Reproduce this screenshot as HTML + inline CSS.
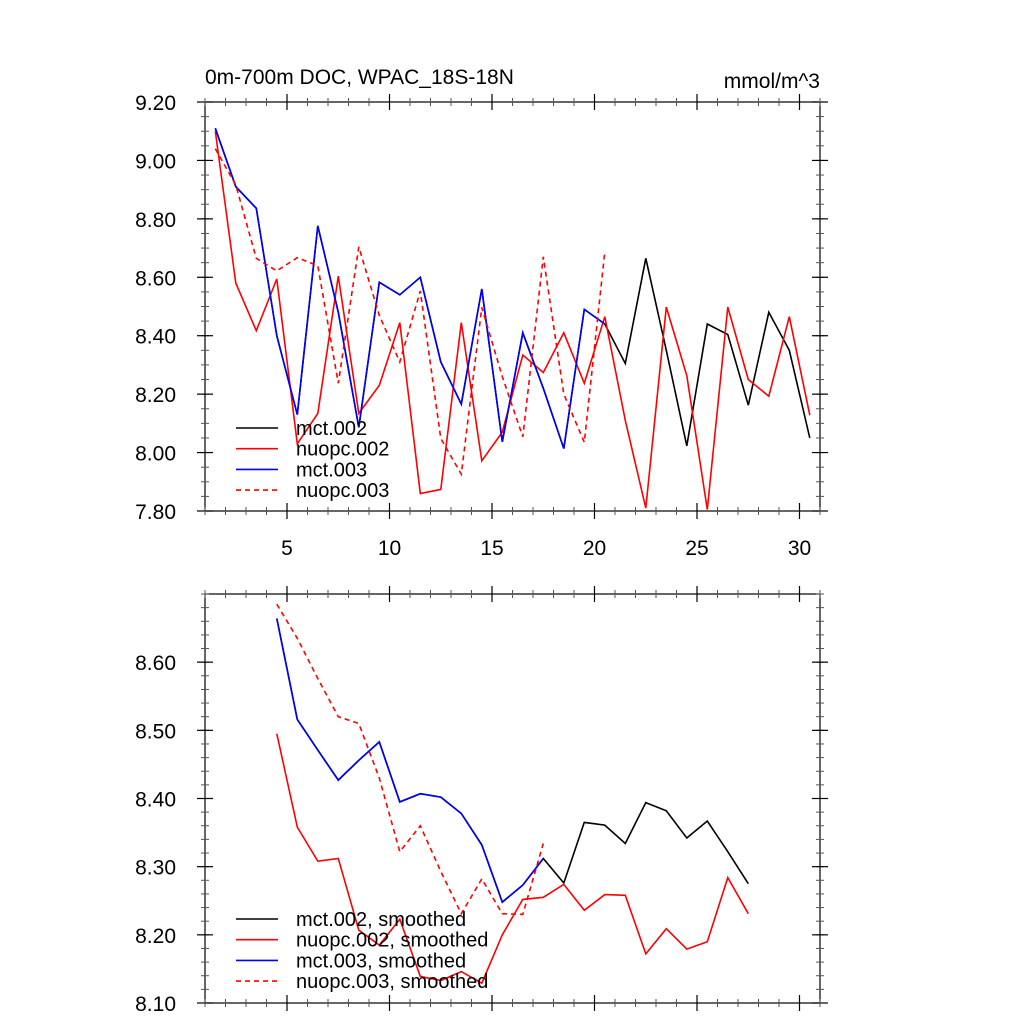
<!DOCTYPE html>
<html><head><meta charset="utf-8"><style>
html,body{margin:0;padding:0;background:#fff;}
svg{display:block;font-family:"Liberation Sans",sans-serif;}
</style></head><body>
<svg id="chart" width="1024" height="1024" viewBox="0 0 1024 1024" xmlns="http://www.w3.org/2000/svg">
<text x="205" y="84" font-size="21">0m-700m DOC, WPAC_18S-18N</text>
<text x="820" y="88" font-size="21" text-anchor="end">mmol/m^3</text>
<g id="top"></g><g id="bot"></g>
</svg>
<script>
const years = [1.5,2.5,3.5,4.5,5.5,6.5,7.5,8.5,9.5,10.5,11.5,12.5,13.5,14.5,15.5,16.5,17.5,18.5,19.5,20.5,21.5,22.5,23.5,24.5,25.5,26.5,27.5,28.5,29.5,30.5];
const mct002 = [9.11,8.91,8.836,8.40,8.13,8.776,8.48,8.086,8.583,8.54,8.60,8.31,8.166,8.56,8.037,8.41,8.22,8.014,8.49,8.44,8.305,8.665,8.35,8.023,8.44,8.404,8.162,8.48,8.35,8.05];
const nuopc002 = [9.10,8.58,8.417,8.594,8.03,8.134,8.604,8.134,8.23,8.445,7.86,7.874,8.445,7.972,8.07,8.334,8.274,8.41,8.237,8.465,8.11,7.81,8.498,8.263,7.805,8.498,8.25,8.193,8.465,8.128];
const mct003 = [9.11,8.91,8.836,8.40,8.13,8.776,8.48,8.086,8.583,8.54,8.60,8.31,8.166,8.56,8.037,8.41,8.22,8.014,8.49,8.44];
const nuopc003 = [9.04,8.916,8.665,8.622,8.667,8.64,8.237,8.704,8.47,8.31,8.553,8.048,7.926,8.497,8.26,8.054,8.67,8.2,8.035,8.687];
const sYears = [4.5,5.5,6.5,7.5,8.5,9.5,10.5,11.5,12.5,13.5,14.5,15.5,16.5,17.5,18.5,19.5,20.5,21.5,22.5,23.5,24.5,25.5,26.5,27.5];
const mct002s = [8.664,8.516,8.471,8.427,8.456,8.483,8.395,8.407,8.402,8.378,8.332,8.248,8.273,8.312,8.276,8.365,8.361,8.334,8.394,8.382,8.342,8.367,8.322,8.275];
const nuopc002s = [8.495,8.358,8.308,8.312,8.207,8.185,8.223,8.139,8.133,8.146,8.129,8.2,8.252,8.255,8.274,8.236,8.259,8.258,8.172,8.209,8.179,8.19,8.284,8.231];
const mct003s = [8.664,8.516,8.471,8.427,8.456,8.483,8.395,8.407,8.402,8.378,8.332,8.248,8.273,8.312];
const nuopc003s = [8.685,8.635,8.576,8.52,8.51,8.43,8.322,8.36,8.293,8.231,8.282,8.231,8.23,8.334];
const topYTicks = ["7.80","8.00","8.20","8.40","8.60","8.80","9.00","9.20"];
const botYTicks = ["8.10","8.20","8.30","8.40","8.50","8.60"];
const xTickLabels = ["5","10","15","20","25","30"];

const NS="http://www.w3.org/2000/svg";
function mk(p,tag,attrs){const e=document.createElementNS(NS,tag);for(const k in attrs)e.setAttribute(k,attrs[k]);p.appendChild(e);return e;}
const L=205,R=820,X0=1,X1=31;
const xs=v=>L+(v-X0)/(X1-X0)*(R-L);

function panel(g,T,B,y0,y1,yMinor,yLabels,showX,series,legend,legY){
  const ys=v=>B-(v-y0)/(y1-y0)*(B-T);
  const fr=mk(g,'rect',{x:L,y:T,width:R-L,height:B-T,fill:'none',stroke:'#000','stroke-width':1.2});
  
  
  for(let v=y0;v<=y1+1e-6;v+=yMinor){
    const y=ys(v);
    mk(g,'line',{x1:L-4,x2:L+4,y1:y,y2:y,stroke:'#555','stroke-width':1});
    mk(g,'line',{x1:R-4,x2:R+4,y1:y,y2:y,stroke:'#555','stroke-width':1});
  }
  yLabels.forEach(s=>{const v=parseFloat(s),y=ys(v);
    mk(g,'line',{x1:L-8,x2:L+8,y1:y,y2:y,stroke:'#000','stroke-width':1.2});
    mk(g,'line',{x1:R-8,x2:R+8,y1:y,y2:y,stroke:'#000','stroke-width':1.2});
    const t=mk(g,'text',{x:176,y:y+8,'font-size':21,'text-anchor':'end'});t.textContent=s;
    
    
  });
  for(let v=1;v<=31;v++){
    const x=xs(v);const maj=v%5===0;const l=maj?8:4;
    mk(g,'line',{x1:x,x2:x,y1:B-l,y2:B+l,stroke:maj?'#000':'#555','stroke-width':maj?1.2:1});
    mk(g,'line',{x1:x,x2:x,y1:T-l,y2:T+l,stroke:maj?'#000':'#555','stroke-width':maj?1.2:1});
  }
  if(showX) xTickLabels.forEach(s=>{const t=mk(g,'text',{x:xs(+s),y:B+44,'font-size':21,'text-anchor':'middle'});t.textContent=s;
    
    });
  series.forEach(([xv,yv,col,dash,name])=>{
    const pts=yv.map((v,i)=>xs(xv[i]).toFixed(1)+','+ys(v).toFixed(1)).join(' ');
    const p=mk(g,'polyline',{points:pts,fill:'none',stroke:col,'stroke-width':1.6,'stroke-dasharray':dash?'5,4':'none'});
    
    
  });
  legend.forEach(([txt,col,dash],i)=>{
    const y=legY+i*20.7;
    const gl=mk(g,'g',{});
    
    
    mk(gl,'line',{x1:236,x2:278,y1:y,y2:y,stroke:col,'stroke-width':1.6,'stroke-dasharray':dash?'5,4':'none'});
    const t=mk(gl,'text',{x:296,y:y+7,'font-size':20});t.textContent=txt;
  });
}
panel(document.getElementById('top'),102,511,7.8,9.2,0.05,topYTicks,true,[
  [years,mct002,'#000',false,'series-mct-002'],
  [years,nuopc002,'#f00',false,'series-nuopc-002'],
  [years,mct003,'#00f',false,'series-mct-003'],
  [years,nuopc003,'#f00',true,'series-nuopc-003']],
  [['mct.002','#000',false],['nuopc.002','#f00',false],['mct.003','#00f',false],['nuopc.003','#f00',true]],428);
panel(document.getElementById('bot'),594,1003,8.1,8.7,0.02,botYTicks,false,[
  [sYears,mct002s,'#000',false,'series-mct-002-smoothed'],
  [sYears,nuopc002s,'#f00',false,'series-nuopc-002-smoothed'],
  [sYears.slice(0,mct003s.length),mct003s,'#00f',false,'series-mct-003-smoothed'],
  [sYears.slice(0,nuopc003s.length),nuopc003s,'#f00',true,'series-nuopc-003-smoothed']],
  [['mct.002, smoothed','#000',false],['nuopc.002, smoothed','#f00',false],['mct.003, smoothed','#00f',false],['nuopc.003, smoothed','#f00',true]],919);
</script>
</body></html>
